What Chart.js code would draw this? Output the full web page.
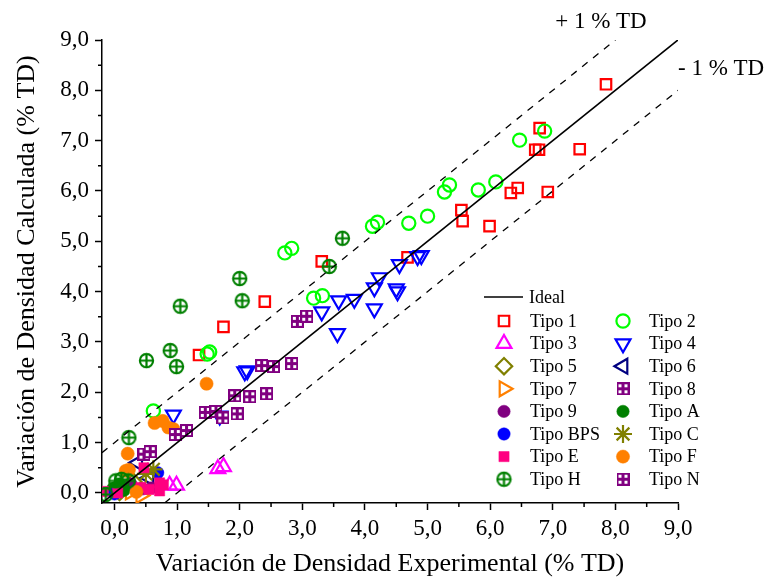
<!DOCTYPE html>
<html>
<head>
<meta charset="utf-8">
<script src="https://cdn.jsdelivr.net/npm/chart.js@4.4.1/dist/chart.umd.min.js"></script>
<style>
  html, body { margin: 0; padding: 0; background: #ffffff; }
  #wrap { width: 769px; height: 583px; }
</style>
</head>
<body>
<div id="wrap"><canvas id="chart" width="769" height="583"></canvas></div>
<script>
// ---- data: [experimental, calculated] density change, % TD ----
const seriesNames = ['Tipo 1', 'Tipo 2', 'Tipo 3', 'Tipo 4', 'Tipo 5', 'Tipo 6', 'Tipo 7', 'Tipo 8',
                     'Tipo 9', 'Tipo A', 'Tipo BPS', 'Tipo C', 'Tipo E', 'Tipo F', 'Tipo H', 'Tipo N'];

const tipo1 = [[7.85, 8.12], [6.79, 7.25], [6.72, 6.82], [6.78, 6.82], [7.43, 6.83], [6.44, 6.06],
               [6.33, 5.96], [6.92, 5.98], [5.54, 5.62], [5.56, 5.40], [5.99, 5.30], [4.68, 4.68],
               [3.31, 4.60], [2.40, 3.80], [1.74, 3.30], [1.35, 2.74]];
const tipo2 = [[6.87, 7.19], [6.47, 7.01], [6.09, 6.18], [5.81, 6.02], [5.35, 6.12], [5.27, 5.98],
               [5.00, 5.50], [4.70, 5.36], [4.20, 5.38], [4.12, 5.30], [2.83, 4.86], [2.72, 4.77],
               [3.32, 3.92], [3.18, 3.87], [1.52, 2.80], [1.48, 2.76], [0.62, 1.63]];
const tipo3 = [[1.65, 0.48], [1.74, 0.52], [0.88, 0.15], [0.99, 0.15]];
const tipo4 = [[4.84, 4.70], [4.90, 4.72], [4.55, 4.54], [4.23, 4.28], [4.15, 4.08], [4.50, 4.06],
               [4.52, 4.00], [4.15, 3.66], [3.83, 3.85], [3.58, 3.82], [3.31, 3.60], [3.56, 3.17],
               [2.08, 2.41], [2.12, 2.43], [1.68, 1.53], [0.94, 1.55]];
const tipo5 = [[0.30, 0.22], [0.08, 0.02]];
const tipo6 = [[0.37, 0.60], [0.55, 0.30]];
const tipo7 = [[0.25, 0.02], [0.42, -0.05]];
const tipo8 = [[2.92, 3.41], [3.07, 3.51], [2.83, 2.57], [2.35, 2.53], [2.54, 2.51], [1.92, 1.93],
               [2.16, 1.91], [2.43, 1.97]];
const tipo9 = [[0.59, 0.10], [0.26, 0.18], [0.45, 0.08]];
const tipoA = [[-0.02, 0.10], [0.08, 0.18], [0.15, 0.05]];
const tipoBPS = [[0.69, 0.40], [0.00, -0.02]];
const tipoC = [[0.62, 0.47], [0.50, 0.38]];
const tipoE = [[0.47, 0.50], [0.42, 0.11], [0.55, 0.07], [0.72, 0.20], [0.72, 0.04], [0.78, 0.16],
               [-0.18, 0.03], [0.05, 0.00]];
const tipoF = [[1.47, 2.17], [0.64, 1.39], [0.77, 1.43], [0.86, 1.30], [0.94, 1.27], [0.21, 0.78],
               [0.18, 0.44], [0.23, 0.46], [0.35, 0.02]];
const tipoH = [[3.64, 5.06], [3.43, 4.50], [2.00, 4.26], [2.04, 3.82], [1.05, 3.71], [0.89, 2.83],
               [0.51, 2.63], [0.99, 2.51], [0.23, 1.10], [0.02, 0.24], [0.11, 0.27], [0.22, 0.24],
               [-0.14, -0.03]];
const tipoN = [[1.45, 1.60], [1.62, 1.62], [1.73, 1.49], [1.96, 1.57], [0.97, 1.16], [1.15, 1.24],
               [0.47, 0.77], [0.57, 0.82]];

const seriesValues = [tipo1, tipo2, tipo3, tipo4, tipo5, tipo6, tipo7, tipo8,
                      tipo9, tipoA, tipoBPS, tipoC, tipoE, tipoF, tipoH, tipoN];

// reference lines: ideal y = x and the ±1 % TD band
const idealLine = [[-0.2, -0.2], [9, 9]];
const upperBand = [[-0.2, 0.8], [8, 9]];
const lowerBand = [[0.8, -0.2], [9, 8]];

const tickValues = [0, 1, 2, 3, 4, 5, 6, 7, 8, 9];
const minorTickValues = [0.5, 1.5, 2.5, 3.5, 4.5, 5.5, 6.5, 7.5, 8.5];

// ---- marker drawing ----
const SERIF = "'Liberation Serif', 'Times New Roman', serif";

function windowSquare(color) {
  const c = document.createElement('canvas');
  c.width = 13; c.height = 13;
  const g = c.getContext('2d');
  g.fillStyle = color;
  g.fillRect(0, 0, 13, 13);
  g.fillStyle = '#ffffff';
  [2, 8].forEach(a => [2, 8].forEach(b => g.fillRect(a, b, 3, 3)));
  return c;
}

function crossCircle(color) {
  const c = document.createElement('canvas');
  c.width = 17; c.height = 17;
  const g = c.getContext('2d');
  g.strokeStyle = color;
  g.lineWidth = 2.2;
  g.beginPath(); g.arc(8.5, 8.5, 6.6, 0, Math.PI * 2); g.stroke();
  g.beginPath();
  g.moveTo(8.5, 2); g.lineTo(8.5, 15);
  g.moveTo(2, 8.5); g.lineTo(15, 8.5);
  g.stroke();
  return c;
}

const NONE = 'rgba(0,0,0,0)';
const markerStyles = [
  { pointStyle: 'rect',     radius: 7.4, rotation: 0,   border: '#ff0000', fill: NONE,      width: 2.2 },
  { pointStyle: 'circle',   radius: 6.6, rotation: 0,   border: '#00ff00', fill: NONE,      width: 2.2 },
  { pointStyle: 'triangle', radius: 8.6, rotation: 0,   border: '#ff00ff', fill: NONE,      width: 2.2 },
  { pointStyle: 'triangle', radius: 8.6, rotation: 180, border: '#0000ff', fill: NONE,      width: 2.2 },
  { pointStyle: 'rectRot',  radius: 8.2, rotation: 0,   border: '#808000', fill: NONE,      width: 2.2 },
  { pointStyle: 'triangle', radius: 8.6, rotation: 270, border: '#000080', fill: NONE,      width: 2.2 },
  { pointStyle: 'triangle', radius: 8.6, rotation: 90,  border: '#ff8000', fill: NONE,      width: 2.2 },
  { pointStyle: windowSquare('#800080'), radius: 7, rotation: 0, border: '#800080', fill: '#800080', width: 0 },
  { pointStyle: 'circle',   radius: 6.2, rotation: 0,   border: '#800080', fill: '#800080', width: 0.5 },
  { pointStyle: 'circle',   radius: 6.2, rotation: 0,   border: '#008000', fill: '#008000', width: 0.5 },
  { pointStyle: 'circle',   radius: 6.2, rotation: 0,   border: '#0000ff', fill: '#0000ff', width: 0.5 },
  { pointStyle: 'star',     radius: 9,   rotation: 0,   border: '#808000', fill: NONE,      width: 2.2 },
  { pointStyle: 'rect',     radius: 7.2, rotation: 0,   border: '#ff0080', fill: '#ff0080', width: 0.5 },
  { pointStyle: 'circle',   radius: 6.6, rotation: 0,   border: '#ff8000', fill: '#ff8000', width: 0.5 },
  { pointStyle: crossCircle('#008000'), radius: 8, rotation: 0, border: '#008000', fill: NONE, width: 0 },
  { pointStyle: windowSquare('#800080'), radius: 7, rotation: 0, border: '#800080', fill: '#800080', width: 0 }
];

const toPoints = arr => arr.map(([x, y]) => ({ x, y }));

const seriesDatasets = seriesNames.map((name, i) => {
  const m = markerStyles[i];
  return {
    label: name,
    data: toPoints(seriesValues[i]),
    pointStyle: m.pointStyle,
    pointRadius: m.radius,
    pointRotation: m.rotation,
    pointBorderColor: m.border,
    pointBackgroundColor: m.fill,
    pointBorderWidth: m.width,
    borderColor: m.border,
    backgroundColor: m.fill,
    showLine: false,
    order: 100 - i
  };
});

const lineDataset = (label, pts, dash, width) => ({
  label,
  data: toPoints(pts),
  showLine: true,
  borderColor: '#000000',
  borderWidth: width,
  borderDash: dash,
  pointRadius: 0,
  fill: false,
  order: 0
});

const datasets = [
  ...seriesDatasets,
  lineDataset('Ideal', idealLine, [], 1.7),
  lineDataset('+ 1 % TD', upperBand, [7, 7], 1.3),
  lineDataset('- 1 % TD', lowerBand, [7, 7], 1.3)
];

const fmt = v => v.toFixed(1).replace('.', ',');

// short minor ticks at the half units on both axes
const minorTicks = {
  id: 'minorTicks',
  afterDraw(chart) {
    const { ctx, scales: { x, y } } = chart;
    ctx.save();
    ctx.strokeStyle = '#000000';
    ctx.lineWidth = 1.5;
    ctx.beginPath();
    minorTickValues.forEach(v => {
      const px = x.getPixelForValue(v);
      ctx.moveTo(px, x.top); ctx.lineTo(px, x.top + 4);
      const py = y.getPixelForValue(v);
      ctx.moveTo(y.right, py); ctx.lineTo(y.right - 4, py);
    });
    ctx.stroke();
    ctx.restore();
  }
};

// band labels next to the dashed lines
const bandLabels = {
  id: 'bandLabels',
  afterDraw(chart) {
    const { ctx, scales: { x, y } } = chart;
    ctx.save();
    ctx.fillStyle = '#000000';
    ctx.font = '23px ' + SERIF;
    ctx.textBaseline = 'middle';
    ctx.textAlign = 'right';
    ctx.fillText('+ 1 % TD', x.getPixelForValue(8.5), y.getPixelForValue(9.36));
    ctx.textAlign = 'left';
    ctx.fillText('- 1 % TD', x.getPixelForValue(9.0), y.getPixelForValue(8.42));
    ctx.restore();
  }
};

// two-column key inside the plot
const seriesKey = {
  id: 'seriesKey',
  afterDraw(chart) {
    const ctx = chart.ctx;
    ctx.save();
    ctx.font = '18px ' + SERIF;
    ctx.textBaseline = 'middle';
    ctx.textAlign = 'left';
    ctx.strokeStyle = '#000000';
    ctx.lineWidth = 1.7;
    ctx.beginPath(); ctx.moveTo(484, 297); ctx.lineTo(523, 297); ctx.stroke();
    ctx.fillStyle = '#000000';
    ctx.fillText('Ideal', 529, 298);
    seriesNames.forEach((name, i) => {
      const m = markerStyles[i];
      const col = i % 2, row = Math.floor(i / 2);
      const yy = 321 + row * 22.6;
      const mx = col ? 623 : 504;
      const tx = col ? 649 : 530;
      ctx.fillStyle = m.fill;
      ctx.strokeStyle = m.border;
      ctx.lineWidth = m.width;
      Chart.helpers.drawPoint(ctx, {
        pointStyle: m.pointStyle, radius: m.radius, rotation: m.rotation, borderWidth: m.width
      }, mx, yy);
      ctx.fillStyle = '#000000';
      ctx.fillText(name, tx, yy + 1);
    });
    ctx.restore();
  }
};

const axisCommon = (title, titlePadding) => ({
  type: 'linear',
  min: -0.2,
  max: 9,
  afterBuildTicks: s => { s.ticks = tickValues.map(v => ({ value: v })); },
  ticks: {
    callback: v => fmt(v),
    color: '#000000',
    font: { family: SERIF, size: 23 },
    padding: 5
  },
  grid: {
    drawOnChartArea: false,
    drawTicks: true,
    tickLength: 7,
    tickWidth: 1.5,
    tickColor: '#000000'
  },
  border: { display: true, color: '#000000', width: 1.5 },
  title: {
    display: true,
    text: title,
    color: '#000000',
    font: { family: SERIF, size: 26 },
    padding: titlePadding
  }
});

const xAxis = axisCommon('Variación de Densidad Experimental (% TD)', { top: 0, bottom: 3 });
xAxis.position = 'bottom';
xAxis.afterFit = s => { s.height = 80; };

const yAxis = axisCommon('Variación de Densidad Calculada (% TD)', { top: 12, bottom: 0 });
yAxis.position = 'left';
yAxis.ticks.padding = 6;
yAxis.afterFit = s => { s.width = 102; };

new Chart(document.getElementById('chart'), {
  type: 'scatter',
  data: { datasets },
  options: {
    responsive: false,
    animation: false,
    devicePixelRatio: 1,
    layout: { padding: { left: 0, right: 91, top: 40, bottom: 0 } },
    scales: { x: xAxis, y: yAxis },
    plugins: {
      legend: { display: false },
      tooltip: { enabled: false }
    }
  },
  plugins: [minorTicks, bandLabels, seriesKey]
});
</script>
</body>
</html>
